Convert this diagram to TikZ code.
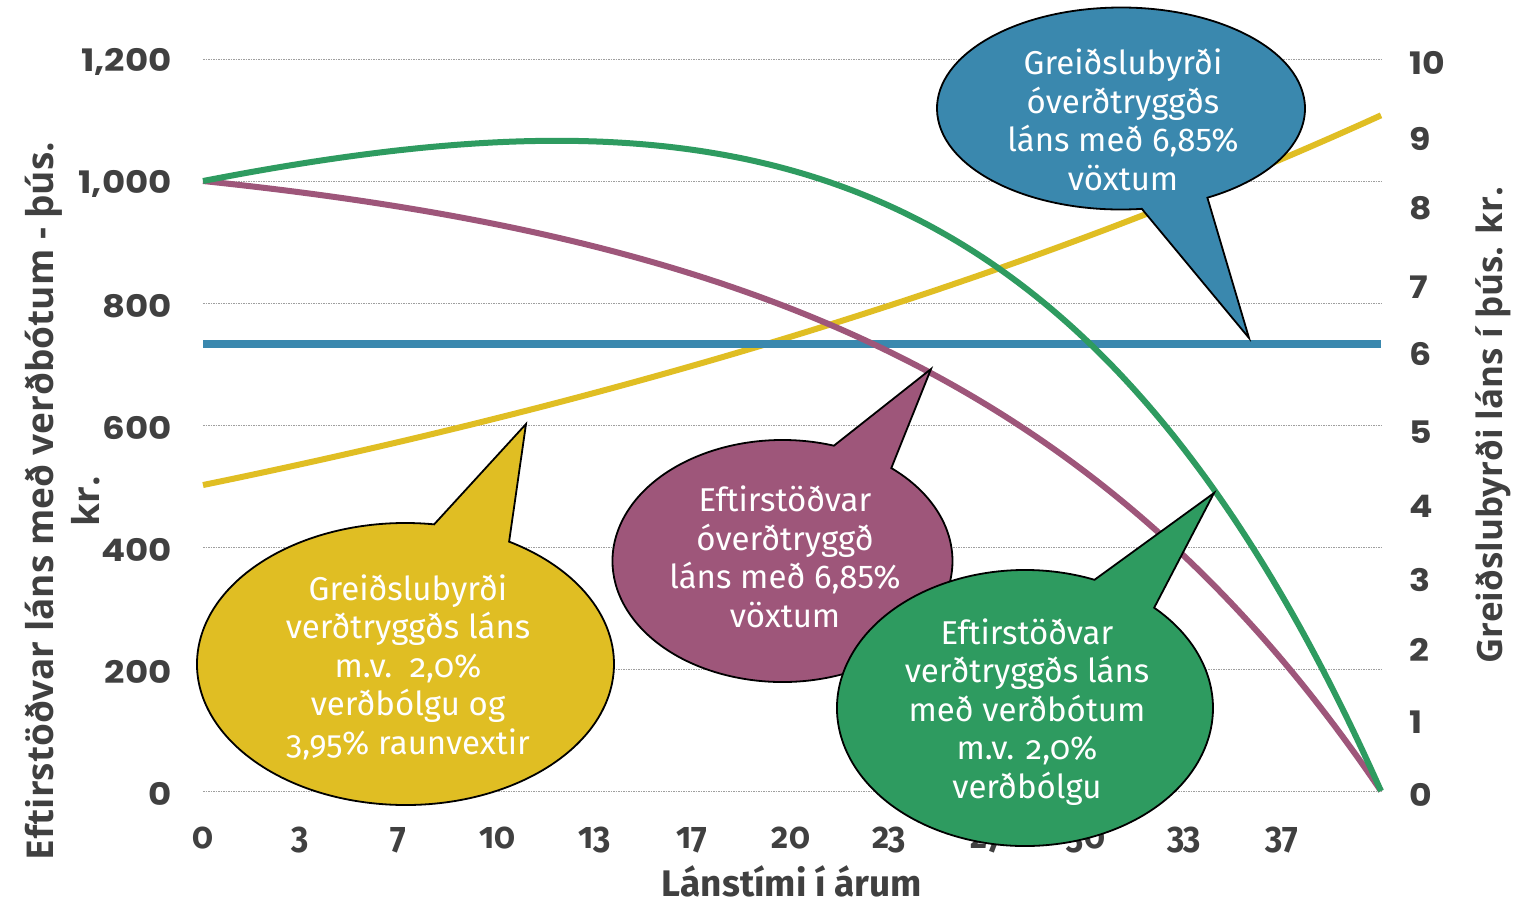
\documentclass[tikz,border=0pt]{standalone}
\usepackage{fontspec}
\setmainfont{Fira Sans}
\newfontfamily\numfont{Poppins}
\newfontfamily\ttlfont{Open Sans}
\newfontfamily\xfont[Numbers=OldStyle]{Fira Sans}
\definecolor{axisgray}{HTML}{404040}
\definecolor{cblue}{HTML}{3A88AE}
\definecolor{cpurple}{HTML}{9E567A}
\definecolor{cgreen}{HTML}{2E9B60}
\definecolor{cyellow}{HTML}{E0BE23}
\newcommand\onum[1]{{\addfontfeature{Numbers=OldStyle}#1}}
\tikzset{
  gridline/.style={gray!75, line width=0.8pt, dash pattern=on 1.5pt off 1pt},
  curve/.style={line width=6pt, line join=round},
  ylab/.style={font=\numfont\bfseries\fontsize{31}{31}\selectfont, text=axisgray, inner sep=0},
  xlab/.style={font=\xfont\bfseries\fontsize{37}{37}\selectfont, text=axisgray, inner sep=0},
  ttl/.style={font=\ttlfont\bfseries\fontsize{37}{46}\selectfont, text=axisgray, align=center, inner sep=0},
  bubble/.style={draw=black, line width=1.8pt, line join=miter},
  btext/.style={font=\fontsize{33}{38.5}\selectfont, text=white, align=center, inner sep=0},
  declare function={
    px(\t)=203+29.45*\t;
    py(\v)=791-0.61*\v;
    fpurple(\t)=1000*(14.157-exp(\t*0.066256))/13.157;
    fgreen(\t)=1000*(4.7095-exp(\t*0.03874))/3.7095*exp(\t*0.0198026);
    fyellow(\t)=120*4.18*exp(\t*0.0198026);
  }
}
\newcommand\bubble[9]{%
  \path[bubble, fill=#1] (#8,#9) -- ({#2+#4*cos(#6)},{#3+#5*sin(#6)})
    arc[start angle=#6, end angle=#7, x radius=#4, y radius=#5] -- cycle;}
\begin{document}
\begin{tikzpicture}[x=1pt,y=-1pt]
\useasboundingbox[fill=white] (0,0) rectangle (1532,906);
% grid
\foreach \v in {0,200,...,1200}{
  \draw[gridline] ({px(0)},{py(\v)}) -- ({px(40)},{py(\v)});
}
% left tick labels
\foreach \v/\s in {0/0,200/200,400/400,600/600,800/800,1000/{1,000},1200/{1,200}}{
  \node[ylab, anchor=east] at (172,{py(\v)+3}) {\scalebox{1.15}[1]{\s}};
}
% right tick labels
\foreach \y/\s in {795/0,722/1,650/2,580/3,506/4,432/5,354/6,287/7,208/8,139/9,63/10}{
  \node[ylab, anchor=west] at (1409,\y) {\scalebox{1.12}[1]{\s}};
}
% x tick labels
\foreach \x/\s in {203/0,300/3,398/7,497/10,595/13,692/17,791/20,889/23,987/27,1086/30,1184/33,1282/37}{
  \node[xlab, anchor=base] at (\x,848) {\scalebox{0.9}[1]{\s}};
}
% curves
\draw[curve, cyellow] plot[domain=0:40, samples=81, smooth] ({px(\x)},{py(fyellow(\x))});
\draw[curve, cblue, line width=7.5pt] ({px(0)},344) -- ({px(40)},344);
\draw[curve, cpurple] plot[domain=0:40, samples=121, smooth] ({px(\x)},{py(fpurple(\x))});
\draw[curve, cgreen] plot[domain=0:40, samples=121, smooth] ({px(\x)},{py(fgreen(\x))});
% bubbles
\bubble{cyellow}{405.5}{664}{208.5}{141}{277.9}{-60.2}{526}{424}
\node[btext] (ty) at (408,667) {Greiðslubyrði\\verðtryggðs láns\\m.v.\ \ \onum{2,0\%}\\verðbólgu og\\\onum{3,95\%} raunvextir};
\bubble{cblue}{1121}{108.5}{184}{101}{83.5}{422}{1249}{338}
\node[btext] (tb) at (1123,120) {Greiðslubyrði\\óverðtryggðs\\láns með 6,85\%\\vöxtum};
\bubble{cpurple}{782.5}{561}{170}{121}{287.6}{-50.2}{931}{369}
\node[btext] (tp) at (785,557) {Eftirstöðvar\\óverðtryggð\\láns með 6,85\%\\vöxtum};
\bubble{cgreen}{1025}{708}{188}{138}{291.7}{-46.6}{1214}{493}
\node[btext] (tg) at (1027,712) {Eftirstöðvar\\verðtryggðs láns\\með verðbótum\\m.v. \onum{2,0\%}\\verðbólgu};
% axis titles
\node[ttl, rotate=90] (lt) at (63,501) {Eftirstöðvar láns með verðbótum - þús.\\kr.};
\node[ttl, rotate=90, font=\ttlfont\bfseries\fontsize{35}{40}\selectfont] (rt) at (1493,425) {Greiðslubyrði láns í þús. kr.};
\node[font=\xfont\bfseries\fontsize{37}{37}\selectfont, text=axisgray, inner sep=0, anchor=base] (xt) at (792,896) {Lánstími í árum};
\end{tikzpicture}
\end{document}
